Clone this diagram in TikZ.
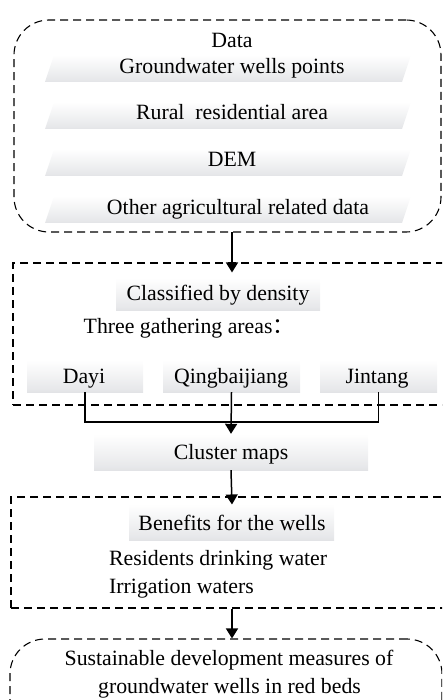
\documentclass[tikz,border=0pt]{standalone}
\usepackage{fontspec}
\setmainfont{Liberation Serif}
\newfontfamily\cjk{Noto Sans CJK SC}
\usetikzlibrary{arrows.meta}
\definecolor{bandgray}{RGB}{202,204,209}
\pgfdeclareverticalshading{bandsh}{100bp}{color(0bp)=(bandgray); color(30bp)=(bandgray!45!white); color(75bp)=(white); color(100bp)=(white)}
\tikzset{
  dbox/.style={draw, line width=1.1pt, dash pattern=on 8pt off 5pt, inner sep=0pt},
  band/.style={shading=bandsh, inner sep=0pt},
  txt/.style={anchor=base, inner sep=0pt, font=\fontsize{21.8}{26}\selectfont},
  ltxt/.style={anchor=base west, inner sep=0pt, font=\fontsize{21.8}{26}\selectfont},
  arr/.style={line width=1.5pt, -{Triangle[length=10pt,width=12pt]}},
  conn/.style={line width=1.5pt}
}
\begin{document}
\begin{tikzpicture}[x=1pt,y=-1pt]
\useasboundingbox (0,0) rectangle (442,700);
\clip (0,0) rectangle (442,700);
% boxes
\node[dbox, rounded corners=35pt, minimum width=427pt, minimum height=212pt] (box1) at (227.5,126) {};
\node[dbox, minimum width=437pt, minimum height=142pt] (box2) at (231.5,334) {};
\node[dbox, minimum width=439pt, minimum height=111pt] (box3) at (230.5,552.5) {};
\node[dbox, rounded corners=35pt, minimum width=432pt, minimum height=100pt] (box4) at (226,689) {};
% data bands (slanted)
\shade[shading=bandsh] (45,82) -- (402,82) -- (411,55) -- (54,55) -- cycle;
\shade[shading=bandsh] (45,129) -- (402,129) -- (411,102) -- (54,102) -- cycle;
\shade[shading=bandsh] (45,176) -- (402,176) -- (411,149) -- (54,149) -- cycle;
\shade[shading=bandsh] (45,223) -- (402,223) -- (411,196) -- (54,196) -- cycle;
\node[txt] (tData) at (232,47.5) {Data};
\node[txt] (tGW) at (232,74) {Groundwater wells points};
\node[txt] (tRural) at (232,120) {Rural\ \ residential area};
\node[txt] (tDEM) at (232,167) {DEM};
\node[txt] (tOther) at (238,215) {Other agricultural related data};
% classification
\node[band, minimum width=204pt, minimum height=32pt] (bClass) at (218,294) {};
\node[txt] (tClass) at (218,300) {Classified by density};
\node[txt] (tThree) at (189,333) {Three gathering areas{\cjk ：}};
\node[band, minimum width=116pt, minimum height=32pt] (bDayi) at (85,376) {};
\node[band, minimum width=137pt, minimum height=32pt] (bQing) at (231.5,376) {};
\node[band, minimum width=117pt, minimum height=32pt] (bJin) at (378.5,376) {};
\node[txt] (tDayi) at (84,383) {Dayi};
\node[txt] (tQing) at (231,383) {Qingbaijiang};
\node[txt] (tJin) at (377,383) {Jintang};
% cluster
\node[band, minimum width=274pt, minimum height=36pt] (bCluster) at (231,452) {};
\node[txt] (tCluster) at (231,459) {Cluster maps};
% benefits
\node[band, minimum width=205pt, minimum height=36pt] (bBen) at (231.5,522) {};
\node[txt] (tBen) at (232,530) {Benefits for the wells};
\node[ltxt] (tRes) at (109,565) {Residents drinking water};
\node[ltxt] (tIrr) at (109,593) {Irrigation waters};
% final
\node[txt] (tSus) at (229,665) {Sustainable development measures of};
\node[txt] (tSus2) at (229.5,693) {groundwater wells in red beds};
% connectors
\draw[arr] (232,232) -- ([yshift=-10pt]box2.north -| 232,0);
\draw[conn] (bDayi.south) -- ++(0,30) coordinate (jl) -| (bJin.south);
\draw[arr] (bQing.south) -- (bCluster.north);
\draw[arr] (bCluster.south) -- ([yshift=-8pt]box3.north -| 232,0);
\draw[arr] (box3.south -| 232,0) -- (box4.north -| 232,0);
\end{tikzpicture}
\end{document}
